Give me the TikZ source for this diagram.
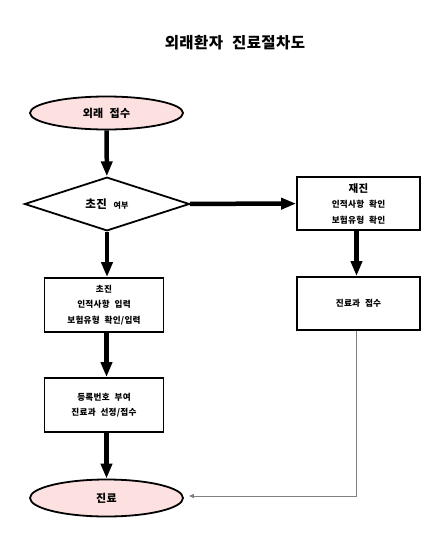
\documentclass[tikz,border=0pt]{standalone}
\usepackage{fontspec}
\setmainfont{Noto Sans CJK KR}[WordSpace=2.2, LetterSpace=3]
\usetikzlibrary{shapes.geometric,arrows.meta}
\definecolor{pinkfill}{RGB}{253,224,224}
\begin{document}
\begin{tikzpicture}[x=1pt,y=-1pt,
    oval/.style={ellipse, draw, line width=1.8pt, fill=pinkfill, inner sep=0pt, minimum width=153pt, font=\fontsize{11}{13}\selectfont\bfseries},
    box/.style={rectangle, draw, line width=1.8pt, inner sep=0pt, align=center, font=\fontsize{8.6}{15.5}\selectfont\bfseries},
    flow/.style={line width=4.5pt, -{Triangle[length=15pt,width=11pt]}}]
    \useasboundingbox (0,0) rectangle (438,550);

    % Title
    \node[font=\fontsize{15.5}{18}\selectfont\bfseries] (title) at (235,43) {외래환자 진료절차도};

    % Left column
    \node[oval, minimum height=33pt] (reception) at (106.5,113) {외래 접수};
    \node[diamond, draw, line width=1.8pt, inner sep=0pt, minimum width=165pt, minimum height=50pt,
          font=\fontsize{11.5}{13}\selectfont\bfseries] (firstvisit) at (107,204)
          {초진 {\fontsize{8}{10}\selectfont 여부}};
    \node[box, minimum width=119pt, minimum height=54pt] (newpatient) at (104,305)
          {초진\\인적사항 입력\\보험유형 확인/입력};
    \node[box, minimum width=119pt, minimum height=54pt] (register) at (104,405)
          {등록번호 부여\\진료과 선정/접수};
    \node[oval, minimum height=37pt] (treatment) at (106.5,498) {진료};

    % Right column
    \node[box, minimum width=123pt, minimum height=53pt] (revisit) at (358.5,203.5)
          {{\fontsize{10.5}{12}\selectfont 재진}\\인적사항 확인\\보험유형 확인};
    \node[box, minimum width=123pt, minimum height=53pt] (department) at (358.5,303.5) {진료과 접수};

    % Arrows
    \draw[flow] (reception) -- (firstvisit);
    \draw[flow] (firstvisit) -- (newpatient.north -| firstvisit);
    \draw[flow] (newpatient.south -| reception) -- (register.north -| reception);
    \draw[flow] (register.south -| reception) -- (treatment);
    \draw[flow] (firstvisit) -- (revisit);
    \draw[flow] ([xshift=-2pt]revisit.south) -- ([xshift=-2pt]department.north);
    \draw[gray, line width=1pt, -{Triangle[length=5pt,width=4pt]}, shorten >=5pt]
         ([xshift=-2pt]department.south) |- ([yshift=2pt]treatment.east);
\end{tikzpicture}
\end{document}
